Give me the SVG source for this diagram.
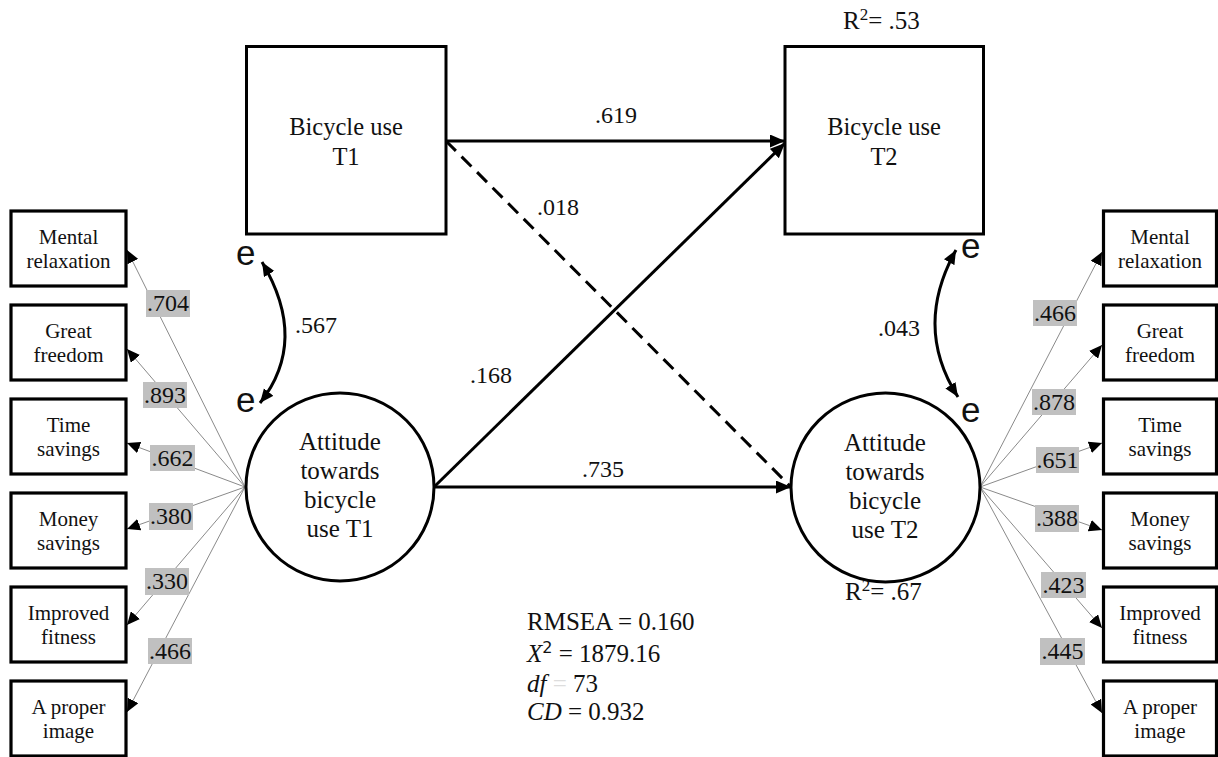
<svg xmlns="http://www.w3.org/2000/svg" width="1218" height="757" viewBox="0 0 1218 757">
<style>
.box{fill:#fff;stroke:#000;stroke-width:3}
.ind{fill:#fff;stroke:#000;stroke-width:3.2}
.t{font-family:"Liberation Serif","Times New Roman",serif;fill:#111}
.bt{font-size:21px;text-anchor:middle}
.mt{font-size:25px;text-anchor:middle}
.bu{font-size:24.5px;text-anchor:middle}
.num{font-size:24px}
.gl{fill:#c0c0c0}
.glt{font-size:24px;text-anchor:middle}
.e{font-family:"Liberation Sans",Arial,sans-serif;font-size:35px;fill:#111}
.main{stroke:#000;stroke-width:3;fill:none}
.thin{stroke:#8a8a8a;stroke-width:1;fill:none}
</style>
<defs>
<marker id="ah" markerUnits="userSpaceOnUse" markerWidth="16" markerHeight="14" refX="15" refY="6.5" orient="auto"><path d="M0,0 L15,6.5 L0,13 z" fill="#000"/></marker>
<marker id="ahs" markerUnits="userSpaceOnUse" markerWidth="14" markerHeight="12" refX="13" refY="6" orient="auto"><path d="M0,0 L13,6 L0,12 z" fill="#000"/></marker>
<marker id="ahc" markerUnits="userSpaceOnUse" markerWidth="15" markerHeight="13" refX="14" refY="6" orient="auto-start-reverse"><path d="M0,0 L14,6 L0,12 z" fill="#000"/></marker>
</defs>
<rect width="1218" height="757" fill="#fff"/>

<g id="connectors">
<line class="main" x1="446" y1="141" x2="785" y2="141" marker-end="url(#ah)"/>
<line class="main" x1="435" y1="486" x2="785" y2="143" marker-end="url(#ah)"/>
<line class="main" x1="446" y1="141" x2="790" y2="486" stroke-dasharray="14 8"/>
<line class="main" x1="435" y1="487" x2="791" y2="487" marker-end="url(#ah)"/>
<path class="main" d="M262,262 Q309,341 260,403" marker-start="url(#ahc)" marker-end="url(#ahc)"/>
<path class="main" d="M956,250 Q913,327 958,397" marker-start="url(#ahc)" marker-end="url(#ahc)"/>
<g class="left-loadings">
<line class="thin" x1="245" y1="487" x2="127" y2="250" marker-end="url(#ahs)"/>
<line class="thin" x1="245" y1="487" x2="127" y2="349" marker-end="url(#ahs)"/>
<line class="thin" x1="245" y1="487" x2="127" y2="443" marker-end="url(#ahs)"/>
<line class="thin" x1="245" y1="487" x2="127" y2="529" marker-end="url(#ahs)"/>
<line class="thin" x1="245" y1="487" x2="127" y2="625" marker-end="url(#ahs)"/>
<line class="thin" x1="245" y1="487" x2="127" y2="712" marker-end="url(#ahs)"/>
</g>
<g class="right-loadings">
<line class="thin" x1="980" y1="487" x2="1102" y2="252" marker-end="url(#ahs)"/>
<line class="thin" x1="980" y1="487" x2="1102" y2="345" marker-end="url(#ahs)"/>
<line class="thin" x1="980" y1="487" x2="1102" y2="443" marker-end="url(#ahs)"/>
<line class="thin" x1="980" y1="487" x2="1102" y2="530" marker-end="url(#ahs)"/>
<line class="thin" x1="980" y1="487" x2="1102" y2="628" marker-end="url(#ahs)"/>
<line class="thin" x1="980" y1="487" x2="1102" y2="713" marker-end="url(#ahs)"/>
</g>
</g>

<g id="path-labels" class="t num">
<text x="595" y="123">.619</text>
<text x="537" y="215">.018</text>
<text x="470" y="383">.168</text>
<text x="582" y="477">.735</text>
<text x="295" y="333">.567</text>
<text x="878" y="336">.043</text>
</g>

<g id="loading-labels" class="t">
<rect class="gl" x="146" y="290" width="44" height="27"/><text class="glt" x="168" y="311">.704</text>
<rect class="gl" x="143" y="382" width="44" height="26"/><text class="glt" x="165" y="403">.893</text>
<rect class="gl" x="150" y="445" width="45" height="26"/><text class="glt" x="172.5" y="466">.662</text>
<rect class="gl" x="149" y="503" width="44" height="27"/><text class="glt" x="171" y="524">.380</text>
<rect class="gl" x="145" y="568" width="44" height="27"/><text class="glt" x="167" y="589">.330</text>
<rect class="gl" x="148" y="638" width="44" height="26"/><text class="glt" x="170" y="659">.466</text>
<rect class="gl" x="1033" y="300" width="44" height="26"/><text class="glt" x="1055" y="321">.466</text>
<rect class="gl" x="1032" y="389" width="44" height="26"/><text class="glt" x="1054" y="410">.878</text>
<rect class="gl" x="1036" y="447" width="43" height="26"/><text class="glt" x="1057.5" y="468">.651</text>
<rect class="gl" x="1035" y="505" width="44" height="27"/><text class="glt" x="1057" y="526">.388</text>
<rect class="gl" x="1041" y="572" width="45" height="26"/><text class="glt" x="1063.5" y="593">.423</text>
<rect class="gl" x="1040" y="638" width="45" height="27"/><text class="glt" x="1062.5" y="659">.445</text>
</g>

<g id="bicycle-t1">
<rect class="box" x="246.5" y="46.5" width="199.5" height="187.5"/>
<text class="t bu" x="346" y="135">Bicycle use</text>
<text class="t bu" x="346" y="165">T1</text>
</g>
<g id="bicycle-t2">
<rect class="box" x="785" y="46.5" width="198.5" height="187.5"/>
<text class="t bu" x="884" y="135">Bicycle use</text>
<text class="t bu" x="884" y="165">T2</text>
<text class="t" font-size="25" x="843" y="29">R<tspan font-size="17" dy="-9">2</tspan><tspan dy="9">= .53</tspan></text>
</g>
<g id="attitude-t1">
<circle class="box" cx="340" cy="487" r="94"/>
<text class="t mt" x="340" y="450">Attitude</text>
<text class="t mt" x="340" y="479">towards</text>
<text class="t mt" x="340" y="508">bicycle</text>
<text class="t mt" x="340" y="537">use T1</text>
</g>
<g id="attitude-t2">
<circle class="box" cx="885.5" cy="487.5" r="94.5"/>
<text class="t mt" x="885" y="451">Attitude</text>
<text class="t mt" x="885" y="480">towards</text>
<text class="t mt" x="885" y="509">bicycle</text>
<text class="t mt" x="885" y="538">use T2</text>
<text class="t" font-size="25" x="845" y="600">R<tspan font-size="17" dy="-9">2</tspan><tspan dy="9">= .67</tspan></text>
</g>
<g id="errors">
<text class="e" x="236" y="265">e</text>
<text class="e" x="236" y="412">e</text>
<text class="e" x="961" y="258">e</text>
<text class="e" x="961" y="422">e</text>
</g>

<g id="left-indicators">
<g id="l-mental"><rect class="ind" x="11" y="211" width="115" height="75"/><text class="t bt" x="68.5" y="244">Mental</text><text class="t bt" x="68.5" y="268">relaxation</text></g>
<g id="l-freedom"><rect class="ind" x="11" y="305" width="115" height="75"/><text class="t bt" x="68.5" y="338">Great</text><text class="t bt" x="68.5" y="362">freedom</text></g>
<g id="l-time"><rect class="ind" x="11" y="399" width="115" height="75"/><text class="t bt" x="68.5" y="432">Time</text><text class="t bt" x="68.5" y="456">savings</text></g>
<g id="l-money"><rect class="ind" x="11" y="493" width="115" height="75"/><text class="t bt" x="68.5" y="526">Money</text><text class="t bt" x="68.5" y="550">savings</text></g>
<g id="l-fitness"><rect class="ind" x="11" y="587" width="115" height="75"/><text class="t bt" x="68.5" y="620">Improved</text><text class="t bt" x="68.5" y="644">fitness</text></g>
<g id="l-image"><rect class="ind" x="11" y="681" width="115" height="75"/><text class="t bt" x="68.5" y="714">A proper</text><text class="t bt" x="68.5" y="738">image</text></g>
</g>
<g id="right-indicators">
<g id="r-mental"><rect class="ind" x="1103.5" y="211" width="113" height="75"/><text class="t bt" x="1160" y="244">Mental</text><text class="t bt" x="1160" y="268">relaxation</text></g>
<g id="r-freedom"><rect class="ind" x="1103.5" y="305" width="113" height="75"/><text class="t bt" x="1160" y="338">Great</text><text class="t bt" x="1160" y="362">freedom</text></g>
<g id="r-time"><rect class="ind" x="1103.5" y="399" width="113" height="75"/><text class="t bt" x="1160" y="432">Time</text><text class="t bt" x="1160" y="456">savings</text></g>
<g id="r-money"><rect class="ind" x="1103.5" y="493" width="113" height="75"/><text class="t bt" x="1160" y="526">Money</text><text class="t bt" x="1160" y="550">savings</text></g>
<g id="r-fitness"><rect class="ind" x="1103.5" y="587" width="113" height="75"/><text class="t bt" x="1160" y="620">Improved</text><text class="t bt" x="1160" y="644">fitness</text></g>
<g id="r-image"><rect class="ind" x="1103.5" y="681" width="113" height="75"/><text class="t bt" x="1160" y="714">A proper</text><text class="t bt" x="1160" y="738">image</text></g>
</g>

<g id="fit-stats" class="t" font-size="25">
<text x="527" y="630">RMSEA = 0.160</text>
<text x="527" y="662"><tspan font-style="italic">X</tspan><tspan font-family="'DejaVu Sans',sans-serif" font-size="16" dy="-9">2</tspan><tspan dy="9"> = 1879.16</tspan></text>
<text x="527" y="692"><tspan font-style="italic">df</tspan><tspan fill="#dddddd"> = </tspan><tspan>73</tspan></text>
<text x="527" y="720"><tspan font-style="italic">CD</tspan> = 0.932</text>
</g>
</svg>
